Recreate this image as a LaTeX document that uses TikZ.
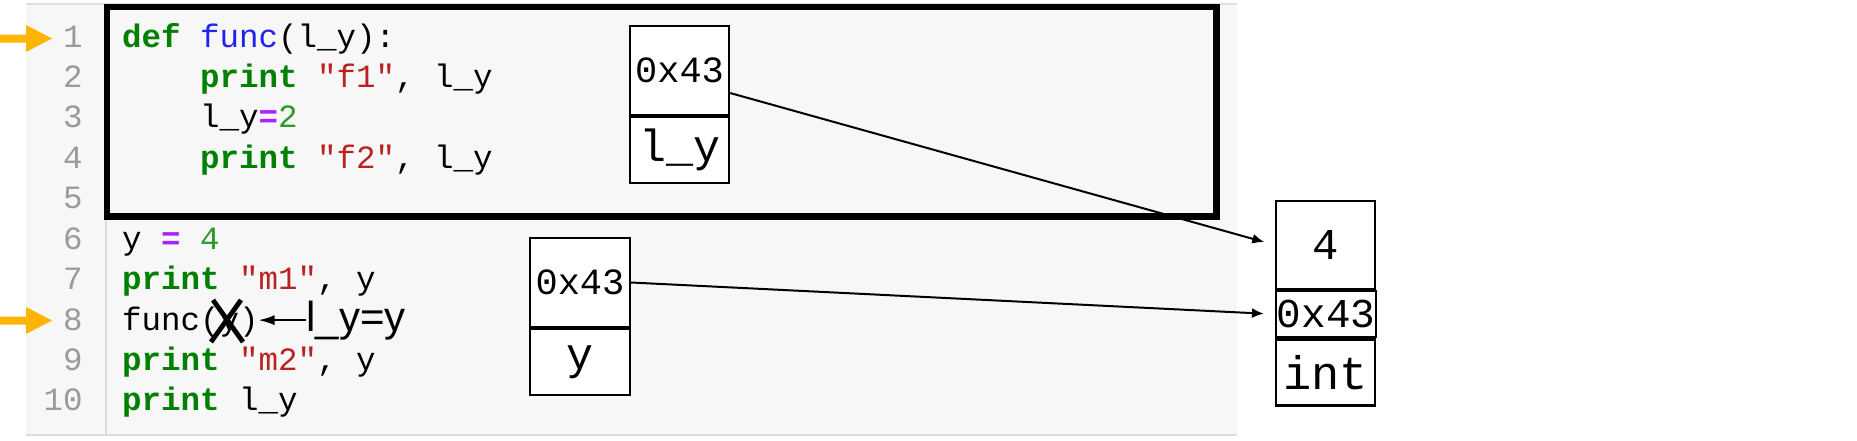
\documentclass[tikz,border=0pt]{standalone}
\usepackage{fontspec}
\usetikzlibrary{arrows.meta,calc}
\newfontfamily\codefont{Liberation Mono}
\newfontfamily\lblfont{Liberation Sans}
\definecolor{kwgreen}{HTML}{008000}
\definecolor{fnblue}{HTML}{2222EE}
\definecolor{strred}{HTML}{BA2121}
\definecolor{oppurple}{HTML}{AA22FF}
\definecolor{numgreen}{HTML}{2A9A2A}
\definecolor{lngray}{HTML}{9A9A9A}
\definecolor{panelgray}{HTML}{F7F7F7}
\definecolor{panelline}{HTML}{DDDDDD}
\definecolor{ptrorange}{HTML}{FFB400}
\newcommand\cKw[1]{{\bfseries\color{kwgreen}#1}}
\newcommand\cFn[1]{{\color{fnblue}#1}}
\newcommand\cStr[1]{{\color{strred}#1}}
\newcommand\cOp[1]{{\bfseries\color{oppurple}#1}}
\newcommand\cNum[1]{{\color{numgreen}#1}}
\begin{document}
\begin{tikzpicture}[x=0.5pt,y=-0.5pt,
  codeline/.style={anchor=base west,inner sep=0pt,outer sep=0pt,font=\codefont\fontsize{16.25pt}{19pt}\selectfont},
  lineno/.style={anchor=base east,inner sep=0pt,text=lngray,font=\codefont\fontsize{16.25pt}{19pt}\selectfont},
  cell/.style={draw,line width=1.1pt,fill=white,inner sep=0pt,minimum width=49.5pt,font=\codefont\fontsize{18.5pt}{22pt}\selectfont},
  bigcell/.style={cell,font=\codefont\fontsize{22.5pt}{26pt}\selectfont},
  pointer/.style={-{Latex[length=6pt,width=5pt]},line width=1pt,shorten >=5.5pt},
  curline/.style={fill=ptrorange},
  framebox/.style={line width=3.25pt}]
\fill[white] (0,0) rectangle (1857,440);
\useasboundingbox (0,0) rectangle (1857,440);
% editor panel
\fill[panelgray] (26,4) rectangle (1237,435);
\draw[panelline,line width=0.8pt] (26,4) -- (1237,4);
\draw[panelline,line width=1pt] (26,435) -- (1237,435);
\draw[panelline,line width=0.8pt] (106,4) -- (106,435);
% line numbers
\foreach \n in {1,...,10} \node[lineno] (ln\n) at (83,{47+(\n-1)*40.43}) {\n};
% current-line markers
\foreach \yy in {38.5,320.5}
  \fill[curline] (0,\yy-4) -- (26,\yy-4) -- (26,\yy-13.5) -- (52,\yy) -- (26,\yy+13.5) -- (26,\yy+4) -- (0,\yy+4) -- cycle;
% code
\node[codeline] (c1) at (122,47) {\cKw{def} \cFn{func}(l\_y):};
\node[codeline] (c2) at (200,87.4) {\cKw{print} \cStr{"f1"}, l\_y};
\node[codeline] (c3) at (200,127.9) {l\_y\cOp{=}\cNum{2}};
\node[codeline] (c4) at (200,168.3) {\cKw{print} \cStr{"f2"}, l\_y};
\node[codeline] (c6) at (122,249.2) {y \cOp{=} \cNum{4}};
\node[codeline] (c7) at (122,289.6) {\cKw{print} \cStr{"m1"}, y};
\node[codeline] (c8) at (122,330) {func(y)};
\node[codeline] (c9) at (122,370.4) {\cKw{print} \cStr{"m2"}, y};
\node[codeline] (c10) at (122,410.9) {\cKw{print} l\_y};
% function frame
\draw[framebox] (107,7) rectangle (1216.5,216.5);
% cross over argument
\draw[line width=2.4pt] (213,300) -- (243,342) (241,300) -- (211,342);
% binding label
\node[anchor=base west,inner sep=0pt,font=\lblfont\fontsize{21pt}{24pt}\selectfont] (lyy) at (306,331) {l\_y=y};
\draw[-{Latex[length=8pt,width=5pt]},line width=1pt] (lyy.west) -- (lyy.west -| c8.east);
% boxes
\node[cell,minimum height=44.5pt] (b1val) at (679.5,70.5) {0x43};
\node[bigcell,minimum height=33pt,anchor=north] (b1name) at (b1val.south) {l\_y};
\node[cell,minimum width=50pt,minimum height=44.5pt] (b2val) at (580,282.5) {0x43};
\node[bigcell,minimum width=50pt,minimum height=33pt,anchor=north] (b2name) at (b2val.south) {y};
\node[bigcell,font=\codefont\fontsize{22pt}{26pt}\selectfont,minimum height=44pt] (b3val) at (1325.5,245) {4};
\node[cell,font=\codefont\fontsize{20.5pt}{24pt}\selectfont,minimum width=50pt,minimum height=23pt,anchor=north west] (b3addr) at (b3val.south west) {0x43};
\node[bigcell,font=\codefont\fontsize{23.5pt}{26pt}\selectfont,minimum height=33pt,anchor=north west] (b3type) at (b3addr.south west) {int};
% pointers
\draw[pointer] ($(b1val.east)+(0,22.5)$) -- (b3val.west);
\draw[pointer] (b2val.east) -- (b3addr.west);
\end{tikzpicture}
\end{document}
